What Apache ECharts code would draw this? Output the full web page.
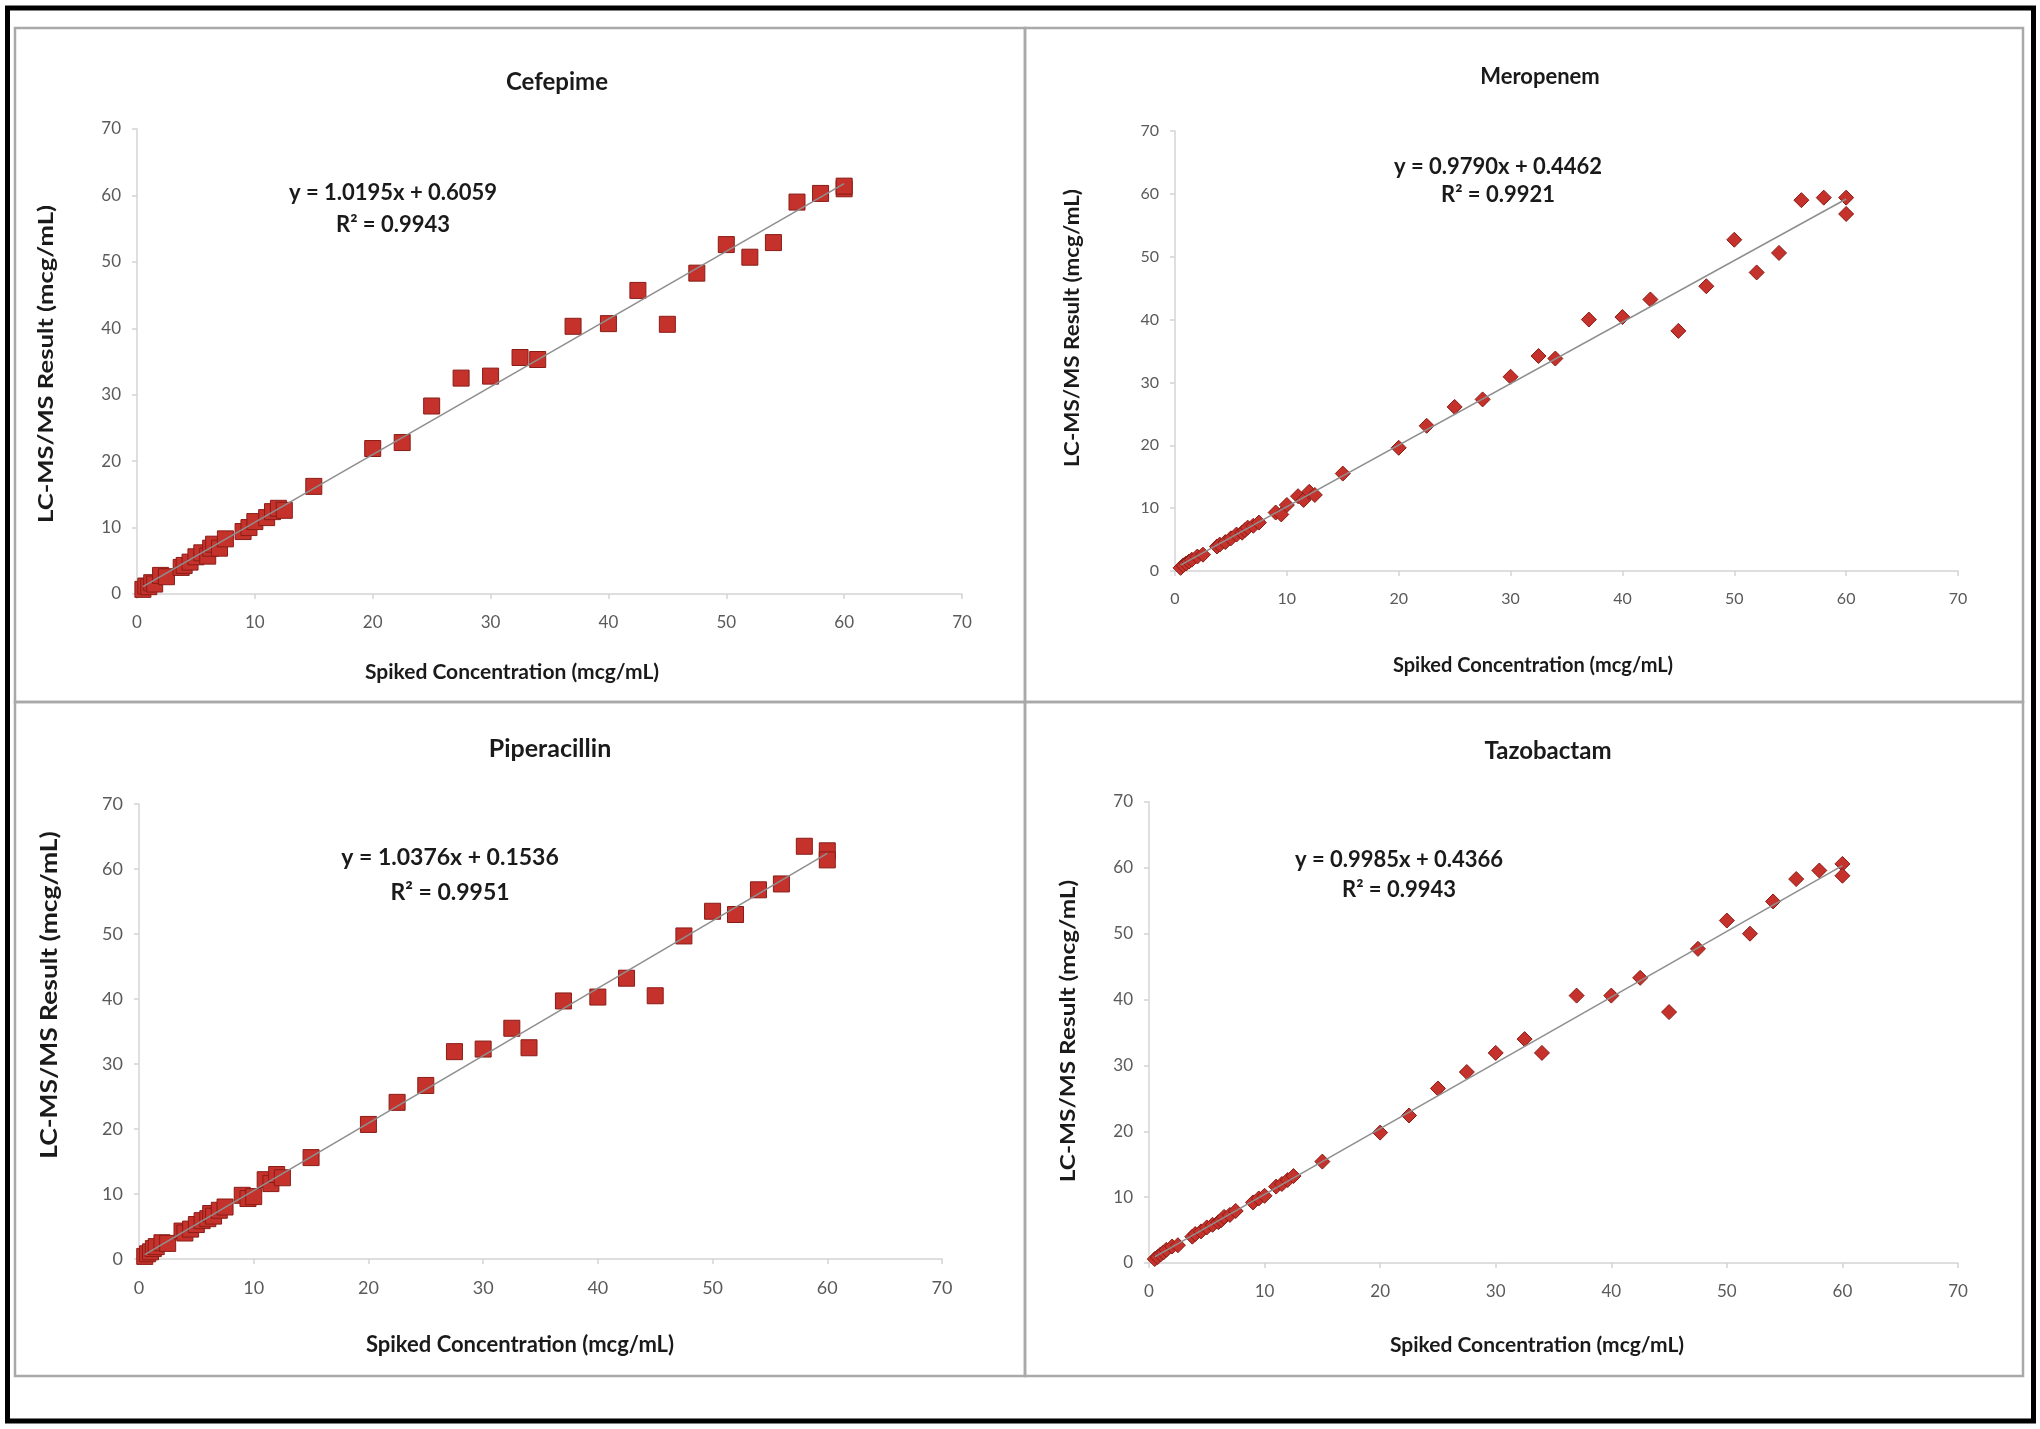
<!DOCTYPE html>
<html>
<head>
<meta charset="utf-8">
<script src="https://cdn.jsdelivr.net/npm/echarts@6/dist/echarts.min.js"></script>
<style>
html,body{margin:0;padding:0;background:#fff;}
#c{width:2040px;height:1429px;}
</style>
</head>
<body>
<div id="c"></div>
<script>
// ---------------- DATA ----------------
const drugNames = ['Cefepime', 'Meropenem', 'Piperacillin', 'Tazobactam'];
const spikedConc = [0.5,0.75,1,1.25,1.5,2,2.5,3.75,4,4.5,5,5.5,6,6.25,6.5,7,7.5,9,9.5,10,11,11.5,12,12.5,
  15,20,22.5,25,27.5,30,32.5,34,37,40,42.5,45,47.5,50,52,54,56,58,60,60];
const cefepimeY = [0.7,1.2,1.1,1.7,1.5,2.8,2.6,4.0,4.3,4.8,5.6,6.2,5.7,6.9,7.5,6.9,8.3,9.4,10.0,10.9,11.5,12.4,12.9,12.6,
  16.2,21.9,22.8,28.3,32.5,32.8,35.6,35.3,40.3,40.7,45.7,40.6,48.3,52.6,50.7,52.9,59.0,60.3,61.0,61.4];
const meropenemY = [0.5,0.9,1.2,1.5,1.8,2.3,2.6,3.9,4.2,4.6,5.2,5.8,6.1,6.5,6.9,7.2,7.7,9.3,9.0,10.5,11.9,11.3,12.6,12.1,
  15.5,19.6,23.1,26.1,27.3,30.9,34.2,33.8,40.0,40.4,43.2,38.2,45.3,52.7,47.5,50.6,59.0,59.4,59.4,56.8];
const piperacillinY = [0.4,0.8,1.1,1.6,1.9,2.5,2.4,4.3,4.0,4.6,5.3,5.9,6.2,7.0,6.6,7.5,8.0,9.8,9.3,9.6,12.2,11.6,13.0,12.5,
  15.6,20.7,24.1,26.7,31.9,32.3,35.5,32.5,39.7,40.3,43.2,40.5,49.7,53.5,53.0,56.8,57.7,63.5,62.8,61.4];
const tazobactamY = [0.6,0.9,1.3,1.6,2.0,2.5,2.7,4.0,4.4,4.8,5.4,5.8,6.2,6.5,7.0,7.3,7.9,9.2,9.8,10.2,11.6,12.0,12.6,13.2,
  15.4,19.8,22.4,26.5,29.0,31.9,34.0,31.9,40.6,40.6,43.3,38.1,47.7,52.0,50.0,54.9,58.3,59.6,60.6,58.8];
const fitSlope = [1.0195, 0.9790, 1.0376, 0.9985];
const fitIntercept = ['0.6059', '0.4462', '0.1536', '0.4366'];
const fitR2 = ['0.9943', '0.9921', '0.9951', '0.9943'];
const axisTicks = [0, 10, 20, 30, 40, 50, 60, 70];
const xAxisTitle = 'Spiked Concentration (mcg/mL)';
const yAxisTitle = 'LC-MS/MS Result (mcg/mL)';

// ---------------- LAYOUT ----------------
const allY = [cefepimeY, meropenemY, piperacillinY, tazobactamY];
const markerShape = ['rect', 'diamond', 'rect', 'diamond'];
const markerSize = [16, 15, 16, 15];
const grids = [
  {left:137, top:129, width:825, height:465},
  {left:1175, top:131, width:783, height:440},
  {left:139, top:804, width:803, height:455},
  {left:1149, top:802, width:809, height:461}
];
const titlePos = [[557,82],[1540,77],[550,749],[1548,751]];
const titleSize = [24, 22, 25, 24];
const eqPos = [[393,193,225],[1498,167,195],[450,858,893],[1399,860,890]];
const eqSize = [22, 22, 23, 22];
const yLabPos = [[46,364],[1073,328],[50,995],[1068,1031]];
const yLabSize = [21, 20, 22, 21];
const yLabStretch = [1.22, 1.12, 1.2, 1.16];
const xLabPos = [[512,672],[1533,666],[520,1345],[1537,1345]];
const xLabSize = [21, 20, 22, 21];
const tickSize = [17, 16, 18, 17];
const FONT = 'Lato';

const option = {
  backgroundColor: '#ffffff',
  animation: false,
  grid: grids.map(g => Object.assign({containLabel:false}, g)),
  xAxis: grids.map((g, i) => ({
    gridIndex: i, type: 'value', min: axisTicks[0], max: axisTicks[axisTicks.length-1], interval: axisTicks[1]-axisTicks[0],
    axisLine: {show: true, onZero: false, lineStyle: {color: '#d4d4d4', width: 1.5}},
    axisTick: {show: true, length: 5, lineStyle: {color: '#d4d4d4', width: 1.5}},
    axisLabel: {color: '#5a5a5a', fontFamily: FONT, fontSize: tickSize[i], margin: 20},
    splitLine: {show: false}
  })),
  yAxis: grids.map((g, i) => ({
    gridIndex: i, type: 'value', min: axisTicks[0], max: axisTicks[axisTicks.length-1], interval: axisTicks[1]-axisTicks[0],
    axisLine: {show: true, lineStyle: {color: '#d4d4d4', width: 1.5}},
    axisTick: {show: true, length: 5, lineStyle: {color: '#d4d4d4', width: 1.5}},
    axisLabel: {color: '#5a5a5a', fontFamily: FONT, fontSize: tickSize[i], margin: 16},
    splitLine: {show: false}
  })),
  series: [],
  graphic: []
};

allY.forEach((ys, i) => {
  const pts = spikedConc.map((x, k) => [x, ys[k]]);
  option.series.push({
    type: 'scatter', xAxisIndex: i, yAxisIndex: i, data: pts,
    symbol: markerShape[i], symbolSize: markerSize[i], z: 2,
    itemStyle: {color: '#c5322b', borderColor: '#8a1c17', borderWidth: 1, opacity: 1}
  });
  const xmin = Math.min.apply(null, spikedConc), xmax = Math.max.apply(null, spikedConc);
  const b = parseFloat(fitIntercept[i]);
  option.series.push({
    type: 'line', xAxisIndex: i, yAxisIndex: i, z: 3,
    data: [[xmin, fitSlope[i]*xmin + b], [xmax, fitSlope[i]*xmax + b]],
    showSymbol: false, symbol: 'none',
    lineStyle: {color: '#8f8f8f', width: 1.6}
  });
  option.graphic.push(
    {type:'text', x:titlePos[i][0], y:titlePos[i][1], z:10,
     style:{text:drugNames[i], fill:'#1a1a1a', font:'bold '+titleSize[i]+'px '+FONT, align:'center', verticalAlign:'middle'}},
    {type:'text', x:eqPos[i][0], y:eqPos[i][1], z:10,
     style:{text:'y = ' + fitSlope[i].toFixed(4) + 'x + ' + fitIntercept[i], fill:'#1a1a1a', font:'bold '+eqSize[i]+'px '+FONT, align:'center', verticalAlign:'middle'}},
    {type:'text', x:eqPos[i][0], y:eqPos[i][2], z:10,
     style:{text:'R\u00b2 = ' + fitR2[i], fill:'#1a1a1a', font:'bold '+eqSize[i]+'px '+FONT, align:'center', verticalAlign:'middle'}},
    {type:'text', x:xLabPos[i][0], y:xLabPos[i][1], z:10,
     style:{text:xAxisTitle, fill:'#1a1a1a', font:'bold '+xLabSize[i]+'px '+FONT, align:'center', verticalAlign:'middle'}},
    {type:'text', x:yLabPos[i][0], y:yLabPos[i][1], rotation: Math.PI/2, scaleX: yLabStretch[i], z:10,
     style:{text:yAxisTitle, fill:'#1a1a1a', font:'bold '+yLabSize[i]+'px '+FONT, align:'center', verticalAlign:'middle'}}
  );
});

// panel frames and outer frame
option.graphic.push(
  {type:'rect', shape:{x:15, y:28, width:1010, height:674}, z:1, style:{fill:'none', stroke:'#a9a9a9', lineWidth:2.5}},
  {type:'rect', shape:{x:1025, y:28, width:998, height:674}, z:1, style:{fill:'none', stroke:'#a9a9a9', lineWidth:2.5}},
  {type:'rect', shape:{x:15, y:702, width:1010, height:674}, z:1, style:{fill:'none', stroke:'#a9a9a9', lineWidth:2.5}},
  {type:'rect', shape:{x:1025, y:702, width:998, height:674}, z:1, style:{fill:'none', stroke:'#a9a9a9', lineWidth:2.5}},
  {type:'rect', shape:{x:7.5, y:8, width:2026, height:1413}, z:1, style:{fill:'none', stroke:'#000000', lineWidth:5}}
);

const chart = echarts.init(document.getElementById('c'), null, {renderer: 'canvas'});
chart.setOption(option);
</script>
</body>
</html>
